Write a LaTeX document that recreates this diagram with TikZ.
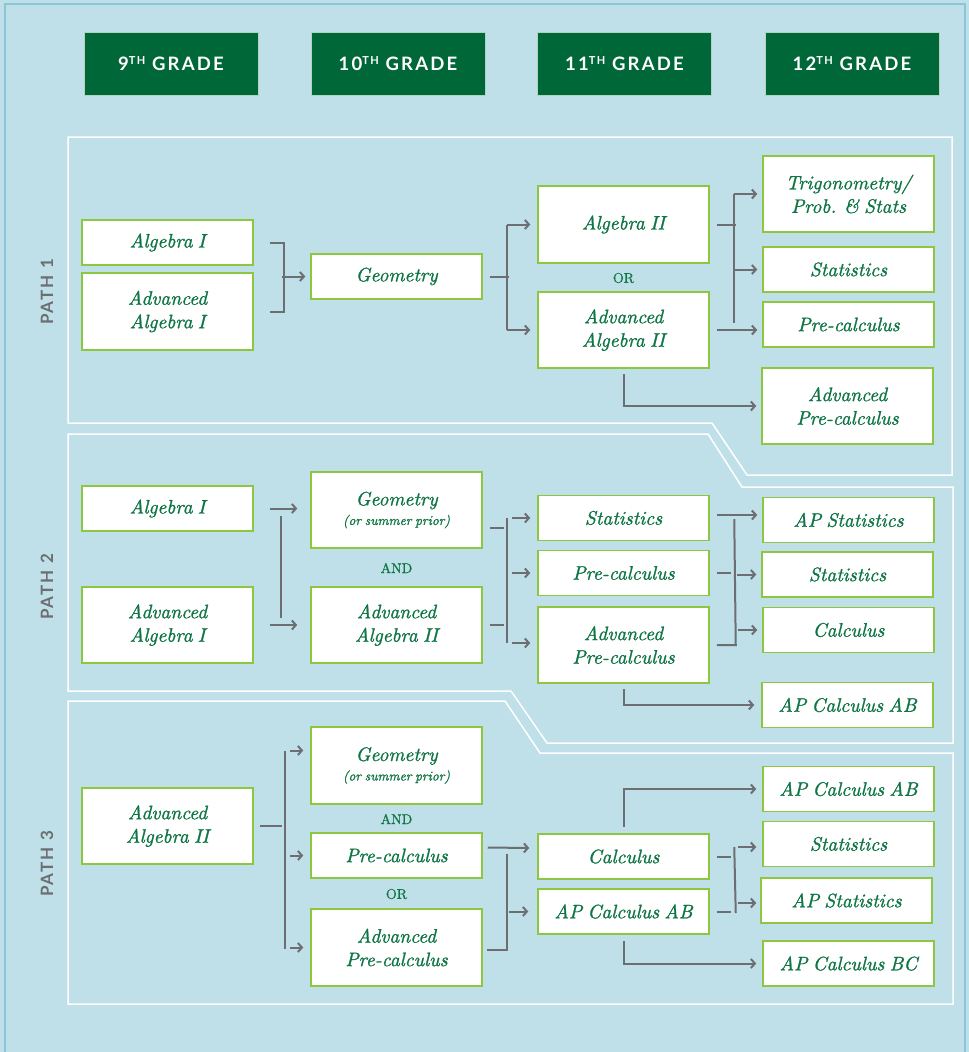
\documentclass[tikz,border=0pt]{standalone}
\usepackage{fontspec}
\newfontfamily\boxit{lmroman10-italic.otf}[FakeBold=1.2,WordSpace=0.75]
\newfontfamily\conjfont{lmroman10-regular.otf}[FakeBold=0.8]
\usetikzlibrary{arrows.meta,calc}
\newfontfamily\hdfont[LetterSpace=12]{Lato}
\definecolor{bg}{RGB}{191,224,232}
\definecolor{frame}{RGB}{140,197,214}
\definecolor{hdrgreen}{RGB}{0,104,56}
\definecolor{boxgreen}{RGB}{141,198,63}
\definecolor{txtgreen}{RGB}{14,117,68}
\definecolor{cgrey}{RGB}{109,110,113}
\begin{document}
\begin{tikzpicture}[x=1pt,y=-1pt,
  box/.style={draw=boxgreen, line width=1.5pt, fill=white, text=txtgreen,
    font=\boxit\fontsize{19.5}{23.5}\selectfont, align=center, inner sep=0pt, minimum width=171pt},
  hdr/.style={fill=hdrgreen, draw=white!70!hdrgreen, line width=1pt, text=white,
    font=\hdfont\fontsize{18.5}{20}\selectfont\bfseries, minimum width=174pt, minimum height=63pt, inner sep=0pt},
  conn/.style={draw=cgrey, line width=2pt},
  arr/.style={conn, -{Straight Barb[length=4pt,width=9pt]}},
  lbl/.style={text=cgrey, font=\hdfont\fontsize{17}{20}\selectfont\bfseries, rotate=90},
  conj/.style={text=txtgreen, font=\conjfont\fontsize{14}{14}\selectfont},
  panel/.style={draw=white, line width=1.5pt, line join=miter}
]
\fill[bg] (0,0) rectangle (969,1052);
\useasboundingbox (0,0) rectangle (969,1052);
\draw[frame, line width=1.5pt] (5,1060) -- (5,4) -- (965,4) -- (965,1060);

% panels
\draw[panel] (68,137) -- (952,137) -- (952,475) -- (747,475) -- (712,423) -- (68,423) -- cycle;
\draw[panel] (68,434) -- (708,434) -- (742,487) -- (953,487) -- (953,743) -- (547,743) -- (511,691) -- (68,691) -- cycle;
\draw[panel] (68,701) -- (505,701) -- (540,753) -- (953,753) -- (953,1004) -- (68,1004) -- cycle;

% headers
\newcommand{\grd}[1]{#1\raisebox{5.5pt}{\fontsize{11}{10}\selectfont TH}\ GRADE}
\node[hdr] (h9) at (171,63.5) {\grd{9}};
\node[hdr] (h10) at (398,63.5) {\grd{10}};
\node[hdr] (h11) at (624.5,63.5) {\grd{11}};
\node[hdr] (h12) at (852,63.5) {\grd{12}};

% path labels
\node[lbl] (l1) at (47,292) {PATH 1};
\node[lbl] (l2) at (47,587) {PATH 2};
\node[lbl] (l3) at (47,864) {PATH 3};

% ---------- PATH 1 ----------
\node[box, minimum height=45pt] (p1a) at (167.5,242.5) {Algebra I};
\node[box, minimum height=77pt] (p1b) at (167.5,311.5) {Advanced\\Algebra I};
\node[box, minimum height=45pt] (p1c) at (396.5,276.5) {Geometry};
\node[box, minimum height=77pt] (p1d) at (623.5,224.5) {Algebra II};
\node[conj] (or1) at (623.5,278) {OR};
\node[box, minimum height=76pt] (p1e) at (623.5,330) {Advanced\\Algebra II};
\node[box, minimum height=76pt] (p1f) at (848.5,194) {Trigonometry/\\Prob. \& Stats};
\node[box, minimum height=45pt] (p1g) at (848.5,269.5) {Statistics};
\node[box, minimum height=45pt] (p1h) at (848.5,324.5) {Pre-calculus};
\node[box, minimum height=76pt] (p1i) at (847.5,406) {Advanced\\Pre-calculus};

\draw[conn] ([xshift=16pt]p1a.east) -- ([xshift=30pt]p1a.east) -- ([xshift=30pt]p1b.east) -- ([xshift=16pt]p1b.east);
\draw[arr] ([xshift=-28pt]p1c.west) -- ([xshift=-5pt]p1c.west);
\draw[conn] ([xshift=7pt]p1c.east) -- ([xshift=26pt]p1c.east);
\draw[conn] ([xshift=-30pt]p1d.west) -- ([xshift=-30pt]p1e.west);
\draw[arr] ([xshift=-30pt]p1d.west) -- ([xshift=-7pt]p1d.west);
\draw[arr] ([xshift=-30pt]p1e.west) -- ([xshift=-7pt]p1e.west);
\draw[conn] ([xshift=7pt]p1d.east) -- ([xshift=26pt]p1d.east);
\draw[conn] ([xshift=-28pt]p1f.west) -- ([xshift=-28pt,yshift=1.5pt]p1h.west);
\draw[arr] ([xshift=-28pt]p1f.west) -- ([xshift=-5pt]p1f.west);
\draw[arr] ([xshift=-28pt]p1g.west) -- ([xshift=-5pt]p1g.west);
\draw[arr] ([xshift=7pt]p1e.east) -- ([xshift=-5pt]p1h.west |- p1e.east);
\draw[arr] ([yshift=-5pt]p1e.south) |- ([xshift=-5pt]p1i.west);

% ---------- PATH 2 ----------
\node[box, minimum height=45pt] (p2a) at (167.5,508.5) {Algebra I};
\node[box, minimum height=76pt] (p2b) at (167.5,625) {Advanced\\Algebra I};
\node[box, minimum height=76pt] (p2c) at (396.5,510) {Geometry\\[-4pt]{\fontsize{13.5}{16}\selectfont (or summer prior)}};
\node[conj] (and2) at (396.5,568) {AND};
\node[box, minimum height=76pt] (p2d) at (396.5,625) {Advanced\\Algebra II};
\node[box, minimum height=45pt] (p2e) at (623.5,518) {Statistics};
\node[box, minimum height=45pt] (p2f) at (623.5,573) {Pre-calculus};
\node[box, minimum height=76pt] (p2g) at (623.5,645) {Advanced\\Pre-calculus};
\node[box, minimum height=45pt] (p2h) at (848.5,520) {AP Statistics};
\node[box, minimum height=45pt] (p2i) at (847.5,574.5) {Statistics};
\node[box, minimum height=45pt] (p2j) at (848.5,630) {Calculus};
\node[box, minimum height=45pt] (p2k) at (847.5,705) {AP Calculus AB};

\draw[arr] ([xshift=16pt]p2a.east) -- ([xshift=-13pt]p2c.west |- p2a.east);
\draw[arr] ([xshift=16pt]p2b.east) -- ([xshift=-13pt]p2d.west);
\draw[conn] ([xshift=27pt,yshift=-7.5pt]p2a.east) -- ([xshift=27pt,yshift=7pt]p2b.east);
\draw[conn] ([xshift=7pt,yshift=-18pt]p2c.east) -- ([xshift=21pt,yshift=-18pt]p2c.east);
\draw[conn] ([xshift=7pt]p2d.east) -- ([xshift=21pt]p2d.east);
\draw[conn] ([xshift=-30pt]p2e.west) -- ([xshift=-30pt,yshift=2pt]p2g.west);
\draw[arr] ([xshift=-25pt]p2e.west) -- ([xshift=-7pt]p2e.west);
\draw[arr] ([xshift=-25pt]p2f.west) -- ([xshift=-7pt]p2f.west);
\draw[arr] ([xshift=-25pt,yshift=2pt]p2g.west) -- ([xshift=-7pt,yshift=2pt]p2g.west);
\draw[arr] ([xshift=7pt,yshift=3pt]p2e.east) -- ([xshift=-5pt,yshift=5pt]p2h.west);
\draw[conn] ([xshift=7pt]p2g.east) -- ([xshift=26pt]p2g.east) -- ([xshift=-28pt,yshift=1pt]p2h.west);
\draw[conn] ([xshift=7pt]p2f.east) -- ([xshift=21pt]p2f.east);
\draw[arr] ([xshift=-24pt]p2i.west) -- ([xshift=-5pt]p2i.west);
\draw[arr] ([xshift=-24pt]p2j.west) -- ([xshift=-5pt]p2j.west);
\draw[arr] ([yshift=-5pt]p2g.south) |- ([xshift=-7pt]p2k.west);

% ---------- PATH 3 ----------
\node[box, minimum height=76pt] (p3a) at (167.5,826) {Advanced\\Algebra II};
\node[box, minimum height=77pt] (p3b) at (396.5,765.5) {Geometry\\[-4pt]{\fontsize{13.5}{16}\selectfont (or summer prior)}};
\node[conj] (and3) at (396.5,819) {AND};
\node[box, minimum height=45pt] (p3c) at (396.5,855.5) {Pre-calculus};
\node[conj] (or3) at (396.5,894) {OR};
\node[box, minimum height=77pt] (p3d) at (396.5,947.5) {Advanced\\Pre-calculus};
\node[box, minimum height=45pt] (p3e) at (623.5,856.5) {Calculus};
\node[box, minimum height=45pt] (p3f) at (623.5,911.5) {AP Calculus AB};
\node[box, minimum height=45pt] (p3g) at (848.5,789) {AP Calculus AB};
\node[box, minimum height=45pt] (p3h) at (848.5,844) {Statistics};
\node[box, minimum height=45pt] (p3i) at (846.5,900.5) {AP Statistics};
\node[box, minimum height=45pt] (p3j) at (848.5,963.5) {AP Calculus BC};

\draw[conn] ([xshift=6pt]p3a.east) -- ([xshift=28pt]p3a.east);
\draw[conn] ([xshift=-25pt,yshift=15pt]p3b.west) -- ([xshift=-25pt,yshift=-1.5pt]p3d.west);
\draw[arr] ([xshift=-20pt,yshift=15pt]p3b.west) -- ([xshift=-7pt,yshift=15pt]p3b.west);
\draw[arr] ([xshift=-20pt]p3c.west) -- ([xshift=-7pt]p3c.west);
\draw[arr] ([xshift=-20pt]p3d.west) -- ([xshift=-7pt]p3d.west);
\draw[arr] ([xshift=5pt,yshift=8pt]p3c.east) -- ([xshift=-8pt,yshift=8.5pt]p3e.west);
\draw[conn] ([xshift=4pt,yshift=-2.5pt]p3d.east) -- ([xshift=24pt,yshift=-2.5pt]p3d.east) -- ([xshift=24pt,yshift=1.5pt]p3c.east);
\draw[arr] ([xshift=-28pt]p3f.west) -- ([xshift=-9pt]p3f.west);
\draw[arr] ([yshift=6pt]p3e.north) |- ([xshift=-6pt]p3g.west);
\draw[conn] ([xshift=7pt]p3e.east) -- ([xshift=21pt]p3e.east);
\draw[conn] ([xshift=7pt]p3f.east) -- ([xshift=21pt]p3f.east);
\draw[conn] ([xshift=-28pt,yshift=-3pt]p3h.west) -- ([xshift=26pt,yshift=-1.5pt]p3f.east);
\draw[arr] ([xshift=-24pt,yshift=-3pt]p3h.west) -- ([xshift=-6pt,yshift=-3pt]p3h.west);
\draw[arr] ([xshift=-22pt,yshift=-2.5pt]p3i.west) -- ([xshift=-4pt,yshift=-2.5pt]p3i.west);
\draw[arr] ([yshift=-6pt]p3f.south) |- ([xshift=-6pt]p3j.west);
\end{tikzpicture}
\end{document}
